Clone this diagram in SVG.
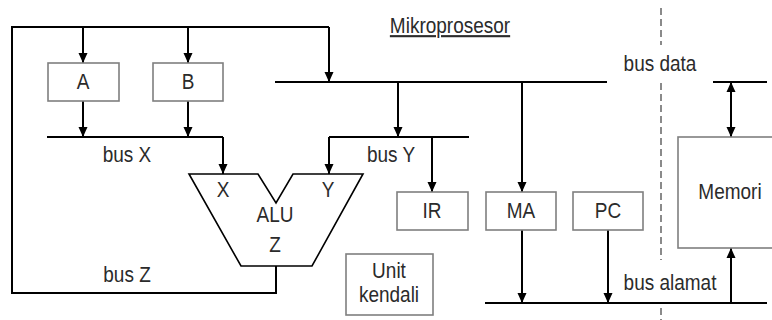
<svg xmlns="http://www.w3.org/2000/svg" width="772" height="320" viewBox="0 0 772 320">
<style>
.w{fill:none;stroke:#000;stroke-width:2}
.a{fill:none;stroke:#000;stroke-width:2;marker-end:url(#ah)}
.box{fill:#fff;stroke:#7f7f7f;stroke-width:1.6}
.t{font-family:"Liberation Sans",Arial,sans-serif;font-size:19px;fill:#2b2b2b;text-anchor:middle}
.dash{stroke:#8a8a8a;stroke-width:2;stroke-dasharray:7,4;fill:none}
</style>
<defs>
<marker id="ah" markerUnits="userSpaceOnUse" markerWidth="10" markerHeight="10" refX="10" refY="4.5" orient="auto-start-reverse" viewBox="0 0 10 9">
<path d="M0,0 L10,4.5 L0,9 z" fill="#000"/>
</marker>
</defs>
<g id="connectors">
<path class="w" d="M276,266 V293 H12 V27 H329"/>
<path class="a" d="M83,27 V63"/>
<path class="a" d="M188,27 V63"/>
<path class="a" d="M329,27 V82"/>
<path class="a" d="M83,101 V137"/>
<path class="a" d="M188,101 V137"/>
<path class="w" d="M47,137 H223"/>
<path class="a" d="M223,137 V174"/>
<path class="w" d="M275,82 H607"/>
<path class="a" d="M398,82 V137"/>
<path class="a" d="M522,82 V192"/>
<path class="w" d="M329,137 H469"/>
<path class="a" d="M329,137 V174"/>
<path class="a" d="M432,137 V192"/>
<path class="a" d="M522,230 V303"/>
<path class="a" d="M608,230 V303"/>
<path class="w" d="M485,303 H767"/>
<path class="a" d="M731,303 V248"/>
<path class="w" d="M713,82 H767"/>
<path class="a" d="M731,82 V137" style="marker-start:url(#ah)"/>
</g>
<g id="boundary">
<path class="dash" d="M661,8 V45 M661,83 V260 M661,308 V320"/>
<text class="t" transform="translate(450,33) scale(1,1.12)" style="text-decoration:underline">Mikroprosesor</text>
<text class="t" transform="translate(660,71) scale(1,1.12)">bus data</text>
<text class="t" transform="translate(127,162) scale(1,1.12)">bus X</text>
<text class="t" transform="translate(391,162) scale(1,1.12)">bus Y</text>
<text class="t" transform="translate(127,282) scale(1,1.12)">bus Z</text>
<text class="t" transform="translate(670,290) scale(1,1.12)">bus alamat</text>
</g>
<g id="A"><rect class="box" x="48" y="63" width="71" height="38"/><text class="t" transform="translate(83,89) scale(1,1.12)">A</text></g>
<g id="B"><rect class="box" x="153" y="63" width="70" height="38"/><text class="t" transform="translate(188,89) scale(1,1.12)">B</text></g>
<g id="ALU">
<polygon points="189,174 258,174 276,203 293,174 363,174 312,266 241,266" fill="#fff" stroke="#000" stroke-width="1.6"/>
<text class="t" transform="translate(223,197) scale(1,1.12)">X</text>
<text class="t" transform="translate(328,197) scale(1,1.12)">Y</text>
<text class="t" transform="translate(275,222) scale(1,1.12)">ALU</text>
<text class="t" transform="translate(275,252) scale(1,1.12)">Z</text>
</g>
<g id="IR"><rect class="box" x="397" y="192" width="71" height="38"/><text class="t" transform="translate(432,218) scale(1,1.12)">IR</text></g>
<g id="MA"><rect class="box" x="486" y="192" width="70" height="38"/><text class="t" transform="translate(521,218) scale(1,1.12)">MA</text></g>
<g id="PC"><rect class="box" x="573" y="192" width="70" height="38"/><text class="t" transform="translate(608,218) scale(1,1.12)">PC</text></g>
<g id="UnitKendali"><rect class="box" x="346" y="254" width="87" height="61"/><text class="t" transform="translate(389,278) scale(1,1.12)">Unit</text><text class="t" transform="translate(389,302) scale(1,1.12)">kendali</text></g>
<g id="Memori"><rect class="box" x="678" y="137" width="110" height="111"/><text class="t" transform="translate(730,199) scale(1,1.12)">Memori</text></g>
</svg>
